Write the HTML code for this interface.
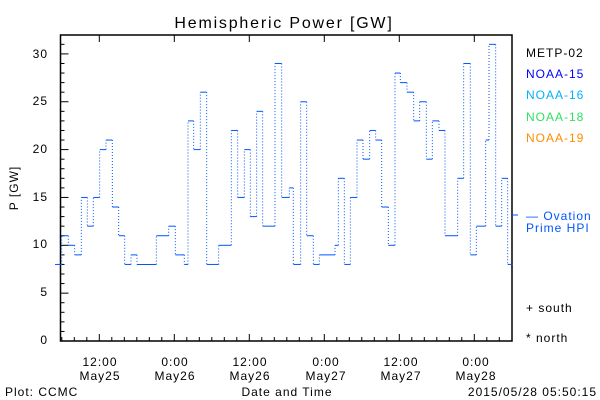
<!DOCTYPE html>
<html><head><meta charset="utf-8"><style>
html,body{margin:0;padding:0;background:#fff}
svg{display:block}
text{font-family:"Liberation Sans",sans-serif;font-size:12px;letter-spacing:1px}
</style></head><body>
<svg id="s" width="600" height="400" viewBox="0 0 600 400" xmlns="http://www.w3.org/2000/svg">
<rect width="600" height="400" fill="#fff"/>
<text x="284" y="28" style="font-size:16px;letter-spacing:1.8px" text-anchor="middle">Hemispheric Power [GW]</text>
<rect x="60.5" y="35" width="451.5" height="306" fill="none" stroke="#000" stroke-width="1.5"/>
<g id="ticks" stroke="#000" stroke-width="1"></g>
<g id="data"></g>
<line x1="512" y1="215" x2="518" y2="215" stroke="#0055ff"/>
<g font-size="12" text-anchor="end">
<text x="48" y="344">0</text><text x="48" y="296">5</text><text x="48" y="248">10</text>
<text x="48" y="201">15</text><text x="48" y="153">20</text><text x="48" y="105">25</text><text x="48" y="58">30</text>
</g>
<text transform="translate(18,188) rotate(-90)" text-anchor="middle">P [GW]</text>
<g text-anchor="middle">
<text x="100" y="366">12:00</text><text x="100" y="380">May25</text>
<text x="175" y="366">0:00</text><text x="175" y="380">May26</text>
<text x="250" y="366">12:00</text><text x="250" y="380">May26</text>
<text x="326" y="366">0:00</text><text x="326" y="380">May27</text>
<text x="401" y="366">12:00</text><text x="401" y="380">May27</text>
<text x="476" y="366">0:00</text><text x="476" y="380">May28</text>
<text x="287" y="396">Date and Time</text>
</g>
<text x="5" y="396">Plot: CCMC</text>
<text x="597" y="396" text-anchor="end">2015/05/28 05:50:15</text>
<text x="526" y="57">METP-02</text>
<text x="526" y="78" fill="#0000ff">NOAA-15</text>
<text x="526" y="99" fill="#00b0ff">NOAA-16</text>
<text x="526" y="121" fill="#30e060">NOAA-18</text>
<text x="526" y="142" fill="#ff8c00">NOAA-19</text>
<text x="526" y="220" fill="#0055ff">— Ovation</text>
<text x="526" y="232" fill="#0055ff">Prime HPI</text>
<text x="526" y="312">+ south</text>
<text x="526" y="342">* north</text>
</svg>
<script>
function X(p){return 55+p/3;}function Y(v){return 341-v*9.57;}
var segs=[[0,20,8],[20,40,11],[40,59,10],[59,79,9],[79,97,15],[97,115,12],[115,134,15],[134,153,20],[153,172,21],[172,191,14],[191,209,11],[209,228,8],[228,246,9],[246,304,8],[304,341,11],[341,361,12],[361,388,9],[388,399,8],[399,416,23],[416,436,20],[436,455,26],[455,491,8],[491,529,10],[529,548,22],[548,568,15],[568,586,20],[586,605,13],[605,623,24],[623,660,12],[660,680,29],[680,703,15]];
var s2=[[28,40,16],[40,62,8],[62,80,25],[80,100,11],[100,118,8],[118,165,9],[165,175,10],[175,193,17],[193,211,8],[211,231,15],[231,249,21],[249,269,19],[269,287,22],[287,305,21],[305,325,14],[325,345,10],[345,361,28],[361,381,27],[381,401,26],[401,419,23],[419,439,25],[439,457,19],[457,477,23],[477,495,22],[495,533,11],[533,551,17],[551,571,29],[571,589,9],[589,617,12],[617,627,21],[627,647,31],[647,665,12],[665,683,17],[683,697,8]];
s2.forEach(function(s){segs.push([s[0]+675,s[1]+675,s[2]]);});
var g=document.getElementById("data"),h="";
for(var i=0;i<segs.length;i++){var s=segs[i];
h+='<line x1="'+X(s[0])+'" y1="'+Y(s[2])+'" x2="'+X(s[1])+'" y2="'+Y(s[2])+'" stroke="#0055ff" stroke-width="1"/>';
if(i>0){h+='<line x1="'+X(s[0])+'" y1="'+Y(segs[i-1][2])+'" x2="'+X(s[0])+'" y2="'+Y(s[2])+'" stroke="#0055ff" stroke-width="1" stroke-dasharray="1,2"/>';}}
g.innerHTML=h;
var t="",tk=document.getElementById("ticks");
for(var v=0;v<=31;v++){var y=Y(v),L=(v%5==0)?8:4;t+='<line x1="60.5" y1="'+y+'" x2="'+(60.5+L)+'" y2="'+y+'"/>';}
for(var k=-3;k<=33;k++){var x=99.3+k*12.5;if(x<61||x>511)continue;var M=(k%6==0);var L=M?7:4;
t+='<line x1="'+x+'" y1="341" x2="'+x+'" y2="'+(341-L)+'"/>';if(M)t+='<line x1="'+x+'" y1="35" x2="'+x+'" y2="42"/>';}
tk.innerHTML=t;
</script>
</body></html>
